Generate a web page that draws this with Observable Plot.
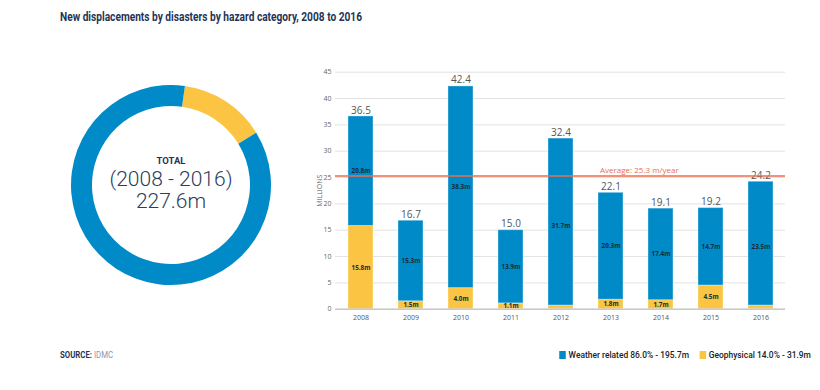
<!DOCTYPE html>
<html>
<head>
<meta charset="utf-8">
<script src="https://cdn.jsdelivr.net/npm/d3@7"></script>
<script src="https://cdn.jsdelivr.net/npm/@observablehq/plot@0.6"></script>
<style>
  html, body { margin: 0; padding: 0; background: #fff; }
  body { width: 820px; height: 390px; position: relative; overflow: hidden; font-family: Roboto, "Open Sans", sans-serif; }
  #title { position: absolute; left: 60px; top: 9px; font-size: 12.5px; font-weight: 700; color: #1f3556; white-space: nowrap; transform-origin: left top; }
  #source { position: absolute; left: 60px; top: 350px; font-size: 8.5px; color: #1f3556; white-space: nowrap; transform-origin: left top; }
  #source span { color: #8a97ab; font-weight: 400; }
  #legend { position: absolute; right: 9px; top: 350px; font-size: 9px; font-weight: 500; color: #222; white-space: nowrap; display: flex; align-items: center; transform-origin: right top; }
  #legend .sw { display: inline-block; width: 7px; height: 8px; margin-right: 3px; }
  #legend .item { display: inline-flex; align-items: center; margin-left: 11px; }
  #donut { position: absolute; left: 61px; top: 75px; }
  #bars { position: absolute; left: 300px; top: 60px; }
</style>
</head>
<body>
<div id="title">New displacements by disasters by hazard category, 2008 to 2016</div>
<div id="donut"></div>
<div id="bars"></div>
<div id="source"><b>SOURCE:</b> <span>IDMC</span></div>
<div id="legend"></div>
<script>
// ---- Data ----
const years = ["2008", "2009", "2010", "2011", "2012", "2013", "2014", "2015", "2016"];
const weatherValues = [20.8, 15.3, 38.3, 13.9, 31.7, 20.3, 17.4, 14.7, 23.5];
const geoValues = [15.8, 1.5, 4.0, 1.1, 0.7, 1.8, 1.7, 4.5, 0.7];
const totals = [36.5, 16.7, 42.4, 15.0, 32.4, 22.1, 19.1, 19.2, 24.2];
const yTicks = [0, 5, 10, 15, 20, 25, 30, 35, 40, 45];
const average = 25.3;
const categories = ["Weather related", "Geophysical"];
const categoryShares = [86.0, 14.0];
const categoryTotals = [195.7, 31.9];
const grandTotal = 227.6;
const colors = ["#008bc8", "#fbc442"];

// ---- Bar chart ----
const rows = [];
years.forEach((y, i) => {
  rows.push({ year: y, cat: "Geophysical", value: geoValues[i] });
  rows.push({ year: y, cat: "Weather related", value: weatherValues[i] });
});
const totalRows = years.map((y, i) => ({ year: y, total: totals[i] }));
const stackOrder = ["Geophysical", "Weather related"];

const font = "'Open Sans', sans-serif";
const bars = Plot.plot({
  width: 500,
  height: 270,
  marginLeft: 35,
  marginRight: 15,
  marginTop: 11.7,
  marginBottom: 21.3,
  style: { fontFamily: font, background: "transparent" },
  x: { domain: years, paddingInner: 0.5, paddingOuter: 0.25, label: null },
  y: { domain: [0, 45], label: null },
  color: { domain: categories, range: colors },
  marks: [
    Plot.gridY(yTicks, { stroke: "#e3e3e3", strokeOpacity: 1 }),
    Plot.axisY(yTicks, { tickSize: 0, tickPadding: 4, fontSize: 7, fill: "#666", label: "MILLIONS", labelAnchor: "center", labelOffset: 18, labelArrow: "none" }),
    Plot.axisX({ tickSize: 0, tickPadding: 6, fontSize: 7, fill: "#555", label: null }),
    Plot.barY(rows, Plot.stackY({ x: "year", y: "value", z: "cat", fill: "cat", order: stackOrder, stroke: "#ffffff", strokeOpacity: 0.35, strokeWidth: 1 })),
    Plot.ruleY([0], { stroke: "#c8c8c8", strokeWidth: 1.5 }),
    Plot.text(rows, Plot.stackY({ x: "year", y: "value", z: "cat", order: stackOrder, text: d => d.value.toFixed(1) + "m", filter: d => d.value >= 1, fontSize: 6.3, fontWeight: 700, fill: "#1a2a3a" })),
    Plot.text(totalRows, { x: "year", y: "total", text: d => d.total.toFixed(1), dy: -6, fontSize: 10, fill: "#555" }),
    Plot.ruleY([average], { stroke: "#e96f4c", strokeWidth: 1.6 }),
    Plot.text([average], { x: () => "2013", y: d => d, text: d => `Average: ${d} m/year`, dx: -11, dy: -6, textAnchor: "start", fontSize: 8, fill: "#e96f4c" })
  ]
});
document.getElementById("bars").appendChild(bars);

// ---- Donut ----
const size = 220;
const R = 100, r = 79;
const svg = d3.create("svg").attr("width", size).attr("height", size + 10);
const g = svg.append("g").attr("transform", `translate(110,110)`);
const pie = d3.pie().sort(null).startAngle(8 * Math.PI / 180).endAngle(8 * Math.PI / 180 + 2 * Math.PI);
const arcs = pie([categoryTotals[1], categoryTotals[0]]);
const arc = d3.arc().innerRadius(r).outerRadius(R);
g.selectAll("path").data(arcs).join("path")
  .attr("d", arc)
  .attr("fill", (d, i) => i === 0 ? colors[1] : colors[0]);
g.append("text").attr("y", -24).attr("text-anchor", "middle").attr("dominant-baseline", "middle")
  .style("font-family", "Roboto, sans-serif").style("font-weight", 700).style("font-size", "9.5px").attr("fill", "#1f3556")
  .text("TOTAL");
g.append("text").attr("y", -5).attr("text-anchor", "middle").attr("dominant-baseline", "middle")
  .style("font-family", "Roboto, sans-serif").style("font-weight", 300).style("font-size", "21px").attr("fill", "#2a3d5c")
  .text(`(${years[0]} - ${years[years.length - 1]})`);
g.append("text").attr("y", 17).attr("text-anchor", "middle").attr("dominant-baseline", "middle")
  .style("font-family", "Roboto, sans-serif").style("font-weight", 300).style("font-size", "21px").attr("fill", "#2a3d5c")
  .text(`${grandTotal}m`);
document.getElementById("donut").appendChild(svg.node());

// ---- Legend ----
const legend = document.getElementById("legend");
categories.forEach((c, i) => {
  const item = document.createElement("span");
  item.className = "item";
  item.innerHTML = `<span class="sw" style="background:${colors[i]}"></span>${c} ${categoryShares[i].toFixed(1)}% - ${categoryTotals[i].toFixed(1)}m`;
  legend.appendChild(item);
});

// Condense texts to match reference widths
function fitWidth(el, target) {
  const w = el.getBoundingClientRect().width;
  if (w > 0) { el.style.transform = `scaleX(${target / w})`; }
}
fitWidth(document.getElementById("title"), 302);
fitWidth(document.getElementById("source"), 53);
fitWidth(document.getElementById("legend"), 262);
</script>
</body>
</html>
